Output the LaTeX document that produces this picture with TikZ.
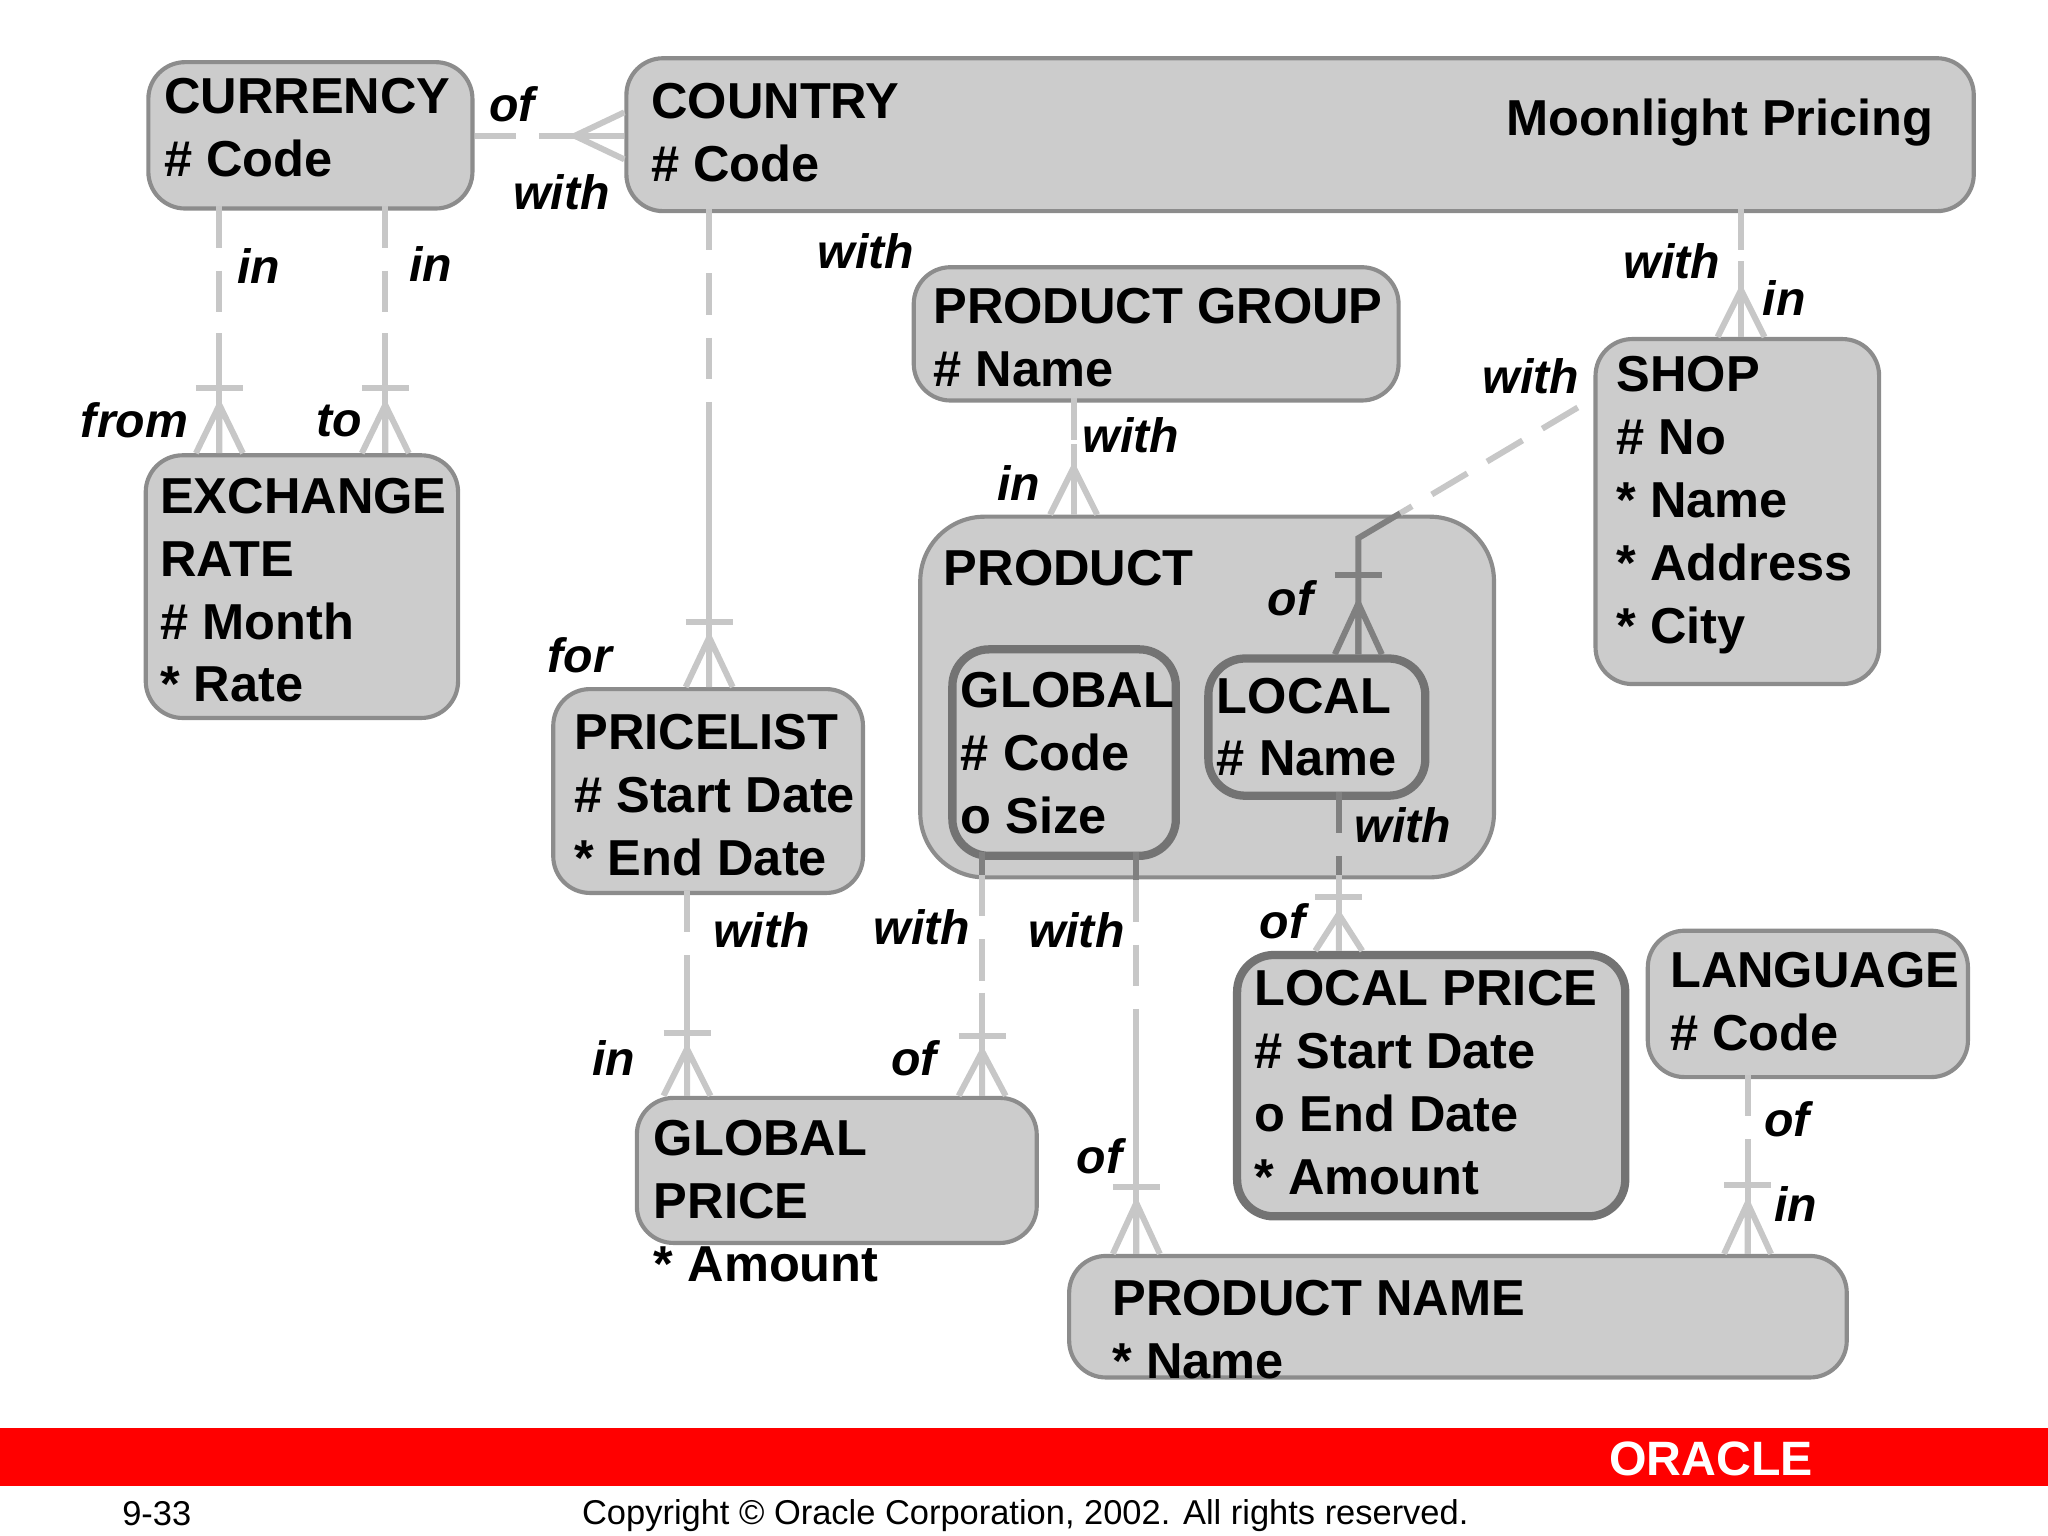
\documentclass[tikz,border=0pt]{standalone}
\usepackage{fontspec}
\setmainfont{Liberation Sans}
\begin{document}
\begin{tikzpicture}[x=0.01cm,y=-0.01cm,
  box/.style={draw=black!45,fill=black!20,line width=0.9pt,rounded corners=8pt,anchor=north west,inner sep=0pt},
  inbox/.style={draw=black!55,fill=black!20,line width=1.8pt,rounded corners=8pt,anchor=north west,inner sep=0pt},
  txt/.style={anchor=north west,font=\fontsize{11}{13.7}\selectfont\bfseries,align=left,inner sep=0pt,yshift=-1.2pt},
  lab/.style={font=\fontsize{10.5}{12}\selectfont\bfseries\itshape,inner sep=0pt},
  dashc/.style={draw=black!22,line width=1.3pt,dash pattern=on 9pt off 5pt},
  solidc/.style={draw=black!22,line width=1.3pt},
  ddash/.style={draw=black!50,line width=1.3pt,dash pattern=on 9pt off 5pt},
  dsolid/.style={draw=black!50,line width=1.3pt}]
\useasboundingbox (0,0) rectangle (1568,1176);
\newcommand\crowfoot[5][solidc]{%
  \draw[#1] (#2-18,#3)--(#2+18,#3);
  \draw[#1] (#2,#4)--(#2-18,#5) (#2,#4)--(#2,#5) (#2,#4)--(#2+18,#5);}
% boxes
\node[box,minimum width=2.48cm,minimum height=1.12cm] (cur) at (112,46) {};
\node[box,minimum width=10.31cm,minimum height=1.17cm] (cty) at (478,43) {};
\node[box,minimum width=3.71cm,minimum height=1.02cm] (pg) at (698,203) {};
\node[box,minimum width=2.17cm,minimum height=2.64cm] (shop) at (1220,258) {};
\node[box,minimum width=2.39cm,minimum height=2.01cm] (exr) at (110,347) {};
\node[box,minimum width=4.39cm,minimum height=2.76cm,rounded corners=14pt] (prod) at (703,394) {};
\node[inbox,minimum width=1.71cm,minimum height=1.58cm] (glob) at (726,494) {};
\node[inbox,minimum width=1.66cm,minimum height=1.05cm] (loc) at (922,501) {};
\node[box,minimum width=2.37cm,minimum height=1.56cm] (pl) at (422,526) {};
\node[inbox,minimum width=2.97cm,minimum height=2.00cm] (lp) at (944,728) {};
\node[box,minimum width=2.45cm,minimum height=1.12cm] (lang) at (1260,711) {};
\node[box,minimum width=3.06cm,minimum height=1.11cm] (gp) at (486,839) {};
\node[box,minimum width=5.95cm,minimum height=0.93cm] (pn) at (817,960) {};
% texts
\node[txt] (tcur) at (125,55) {CURRENCY\\\# Code};
\node[txt] (tcty) at (498,59) {COUNTRY\\\# Code};
\node[txt,anchor=north east] (tmp) at (1481,71) {Moonlight Pricing};
\node[txt] (tpg) at (714,216) {PRODUCT GROUP\\\# Name};
\node[txt] (tshop) at (1237,268) {SHOP\\\# No\\* Name\\* Address\\* City};
\node[txt] (texr) at (122,361) {EXCHANGE\\RATE\\\# Month\\* Rate};
\node[txt] (tprod) at (722,416) {PRODUCT};
\node[txt] (tglob) at (735,510) {GLOBAL\\\# Code\\o Size};
\node[txt] (tloc) at (931,514) {LOCAL\\\# Name};
\node[txt] (tpl) at (439,542) {PRICELIST\\\# Start Date\\* End Date};
\node[txt] (tlp) at (960,738) {LOCAL PRICE\\\# Start Date\\o End Date\\* Amount};
\node[txt] (tlang) at (1278,724) {LANGUAGE\\\# Code};
\node[txt] (tgp) at (500,853) {GLOBAL\\PRICE\\* Amount};
\node[txt] (tpn) at (851,975) {PRODUCT NAME\\* Name};
% connectors
\draw[dashc] (cur.east |- 0,104) -- (440,104);
\draw[solidc] (440,104) -- (cty.west |- 0,104);
\draw[solidc] (440,104)--(478,86) (440,104)--(478,122);
\node[lab] at (392,80) {of}; \node[lab] at (430,147) {with};
\draw[dashc] (168,158) -- (168,255); \draw[solidc] (168,255) -- (168,347);
\crowfoot{168}{297}{310}{347}
\node[lab] at (198,204) {in}; \node[lab] at (103,322) {from};
\draw[dashc] (295,158) -- (295,255); \draw[solidc] (295,255) -- (295,347);
\crowfoot{295}{297}{310}{347}
\node[lab] at (330,202) {in}; \node[lab] at (260,322) {to};
\draw[dashc] (543,160) -- (543,335); \draw[solidc] (543,335) -- (543,526);
\crowfoot{543}{476}{488}{526}
\node[lab] at (663,192) {with}; \node[lab] at (444,502) {for};
\draw[dashc] (1333,160) -- (1333,200); \draw[solidc] (1333,200) -- (1333,258);
\draw[solidc] (1333,222)--(1315,258) (1333,222)--(1351,258);
\node[lab] at (1280,200) {with}; \node[lab] at (1366,228) {in};
\draw[dashc] (822,305) -- (822,340); \draw[solidc] (822,340) -- (822,394);
\draw[solidc] (822,358)--(804,394) (822,358)--(840,394);
\node[lab] at (866,333) {with}; \node[lab] at (780,370) {in};
\draw[dashc] (1208,312) -- (1072,393);
\draw[dsolid] (1072,393) -- (1040,412) -- (1040,501);
\crowfoot[dsolid]{1040}{440}{462}{501}
\node[lab] at (1172,288) {with}; \node[lab] at (988,458) {of};
\draw[ddash] (1025,606) -- (1025,670); \draw[dashc] (1025,670) -- (1025,680); \draw[solidc] (1025,680)--(1025,728);
\crowfoot{1025}{687}{700}{728}
\node[lab] at (1074,632) {with}; \node[lab] at (982,705) {of};
\draw[dashc] (526,682) -- (526,760); \draw[solidc] (526,760) -- (526,839);
\crowfoot{526}{791}{803}{839}
\node[lab] at (583,712) {with}; \node[lab] at (470,810) {in};
\draw[dsolid] (752,652) -- (752,670); \draw[dashc] (752,670) -- (752,760); \draw[solidc] (752,760) -- (752,839);
\crowfoot{752}{793}{805}{839}
\node[lab] at (706,710) {with}; \node[lab] at (700,810) {of};
\draw[dsolid] (870,652) -- (870,674); \draw[dashc] (870,674) -- (870,800); \draw[solidc] (870,800) -- (870,960);
\crowfoot{870}{909}{921}{960}
\node[lab] at (824,712) {with}; \node[lab] at (842,885) {of};
\draw[dashc] (1338,823) -- (1338,890); \draw[solidc] (1338,890) -- (1338,960);
\crowfoot{1338}{907}{921}{960}
\node[lab] at (1368,857) {of}; \node[lab] at (1375,922) {in};
% footer
\fill[red] (0,1093) rectangle (1568,1138);
\node[font=\fontsize{10.5}{12}\selectfont\bfseries,text=white,inner sep=0pt] (ora) at (1310,1117) {ORACLE};
\node[font=\fontsize{7.5}{9}\selectfont,inner sep=0pt] (pg33) at (120,1159) {9-33};
\node[font=\fontsize{7.5}{9}\selectfont,inner sep=0pt] (copy) at (785,1160) {Copyright © Oracle Corporation, 2002. All rights reserved.};
\end{tikzpicture}
\end{document}
